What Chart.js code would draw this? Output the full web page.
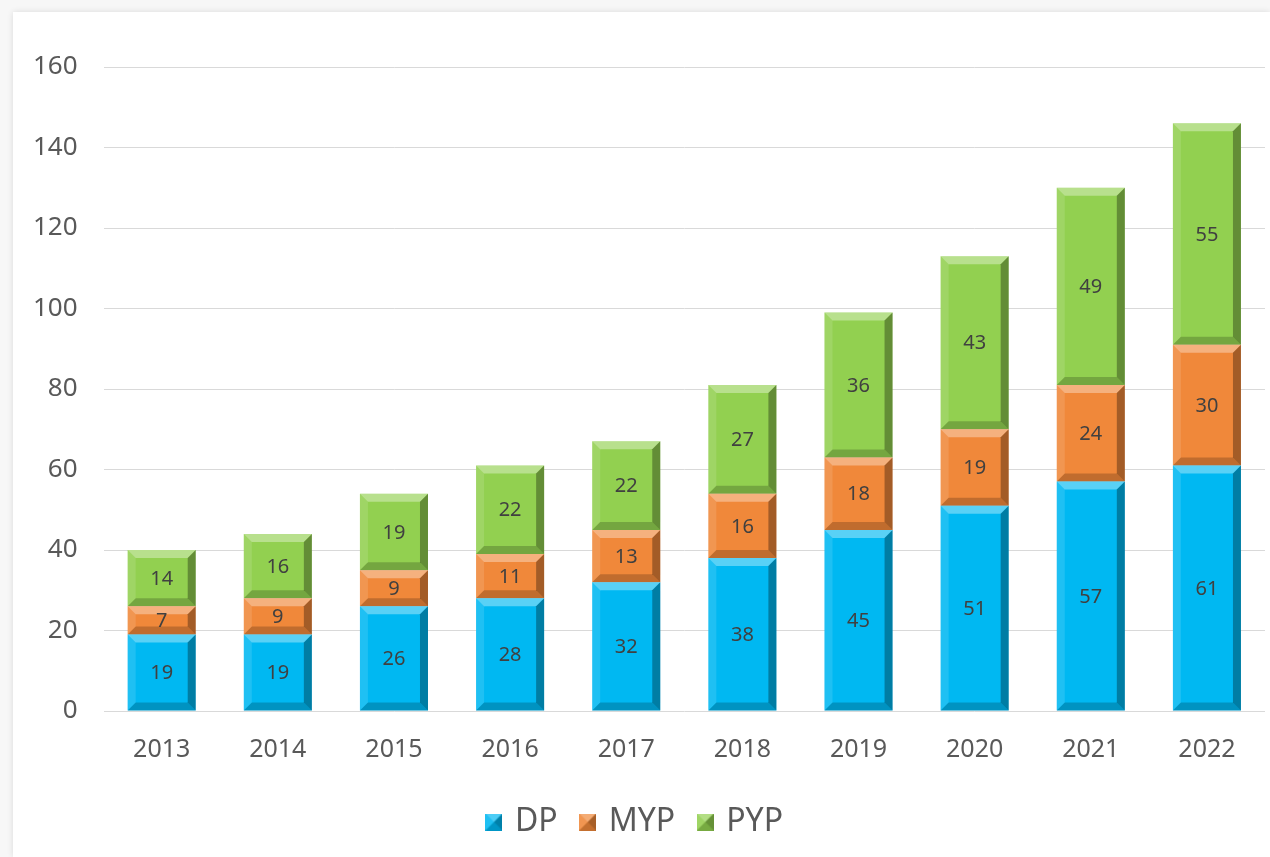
<!DOCTYPE html>
<html>
<head>
<meta charset="utf-8">
<script src="https://cdn.jsdelivr.net/npm/chart.js@4"></script>
<style>
  body { margin: 0; background: #f7f7f7; }
  #card { position: absolute; left: 13px; top: 12px; width: 1257px; height: 845px; background: #fff; box-shadow: 0 0 6px rgba(0,0,0,0.12); }
  #myChart { position: absolute; left: 0; top: 0; }
</style>
</head>
<body>
<div id="card"></div>
<canvas id="myChart" width="1270" height="857"></canvas>
<script>
const years = ["2013", "2014", "2015", "2016", "2017", "2018", "2019", "2020", "2021", "2022"];
const dp = [19, 19, 26, 28, 32, 38, 45, 51, 57, 61];
const myp = [7, 9, 9, 11, 13, 16, 18, 19, 24, 30];
const pyp = [14, 16, 19, 22, 22, 27, 36, 43, 49, 55];

const colores = ["#00B8F2", "#F0883A", "#92D050"];
const fuente = "'Noto Sans', 'DejaVu Sans', sans-serif";

// icono del legend con efecto piramide
function iconoBisel(color) {
    const c = document.createElement("canvas");
    c.width = 17; c.height = 17;
    const g = c.getContext("2d");
    g.fillStyle = color;
    g.fillRect(0, 0, 17, 17);
    const m = 8.5;
    g.fillStyle = "rgba(255,255,255,0.3)";
    g.beginPath(); g.moveTo(0, 0); g.lineTo(17, 0); g.lineTo(m, m); g.fill();
    g.fillStyle = "rgba(255,255,255,0.12)";
    g.beginPath(); g.moveTo(0, 0); g.lineTo(0, 17); g.lineTo(m, m); g.fill();
    g.fillStyle = "rgba(0,0,0,0.3)";
    g.beginPath(); g.moveTo(17, 0); g.lineTo(17, 17); g.lineTo(m, m); g.fill();
    g.fillStyle = "rgba(0,0,0,0.18)";
    g.beginPath(); g.moveTo(0, 17); g.lineTo(17, 17); g.lineTo(m, m); g.fill();
    return c;
}

// bisel estilo excel + etiquetas de valor
const biselPlugin = {
    id: "bisel",
    afterDatasetsDraw(chart) {
        const ctx = chart.ctx;
        chart.data.datasets.forEach((ds, i) => {
            const meta = chart.getDatasetMeta(i);
            meta.data.forEach((bar, j) => {
                const p = bar.getProps(["x", "y", "base", "width"], true);
                const l = p.x - p.width / 2, r = p.x + p.width / 2;
                const t = Math.min(p.y, p.base), bo = Math.max(p.y, p.base);
                const b = 8;
                const poly = (pts, fill) => {
                    ctx.fillStyle = fill;
                    ctx.beginPath();
                    ctx.moveTo(pts[0][0], pts[0][1]);
                    for (let k = 1; k < pts.length; k++) ctx.lineTo(pts[k][0], pts[k][1]);
                    ctx.closePath();
                    ctx.fill();
                };
                ctx.save();
                poly([[l, t], [r, t], [r - b, t + b], [l + b, t + b]], "rgba(255,255,255,0.35)");
                poly([[l, t], [l + b, t + b], [l + b, bo - b], [l, bo]], "rgba(255,255,255,0.12)");
                poly([[r, t], [r, bo], [r - b, bo - b], [r - b, t + b]], "rgba(0,0,0,0.32)");
                poly([[l, bo], [r, bo], [r - b, bo - b], [l + b, bo - b]], "rgba(0,0,0,0.2)");
                ctx.fillStyle = "#404040";
                ctx.font = "20px " + fuente;
                ctx.textAlign = "center";
                ctx.textBaseline = "middle";
                ctx.fillText(ds.data[j], p.x, (t + bo) / 2 + 1);
                ctx.restore();
            });
        });
    }
};

const config = {
    type: "bar",
    data: {
        labels: years,
        datasets: [
            { label: "DP", data: dp, backgroundColor: colores[0], pointStyle: iconoBisel(colores[0]) },
            { label: "MYP", data: myp, backgroundColor: colores[1], pointStyle: iconoBisel(colores[1]) },
            { label: "PYP", data: pyp, backgroundColor: colores[2], pointStyle: iconoBisel(colores[2]) }
        ]
    },
    options: {
        responsive: false,
        animation: false,
        layout: { padding: { left: 7, right: 5, top: 67, bottom: 9 } },
        datasets: { bar: { categoryPercentage: 0.586, barPercentage: 1.0 } },
        scales: {
            x: {
                stacked: true,
                grid: { display: false },
                border: { display: false },
                ticks: { color: "#595959", font: { size: 25, family: fuente }, padding: 16 }
            },
            y: {
                stacked: true,
                min: 0, max: 160,
                ticks: { stepSize: 20, color: "#595959", font: { size: 26, family: fuente }, padding: 26 },
                grid: { color: "#d9d9d9", lineWidth: 1, drawTicks: false },
                border: { display: false }
            }
        },
        plugins: {
            legend: {
                position: "bottom",
                labels: {
                    usePointStyle: true,
                    boxWidth: 10,
                    boxHeight: 17,
                    color: "#595959",
                    font: { size: 32, family: fuente, lineHeight: 0.4 },
                    padding: 25
                }
            },
            tooltip: { enabled: false }
        }
    },
    plugins: [biselPlugin]
};

const myChart = new Chart(document.getElementById("myChart"), config);
</script>
</body>
</html>
